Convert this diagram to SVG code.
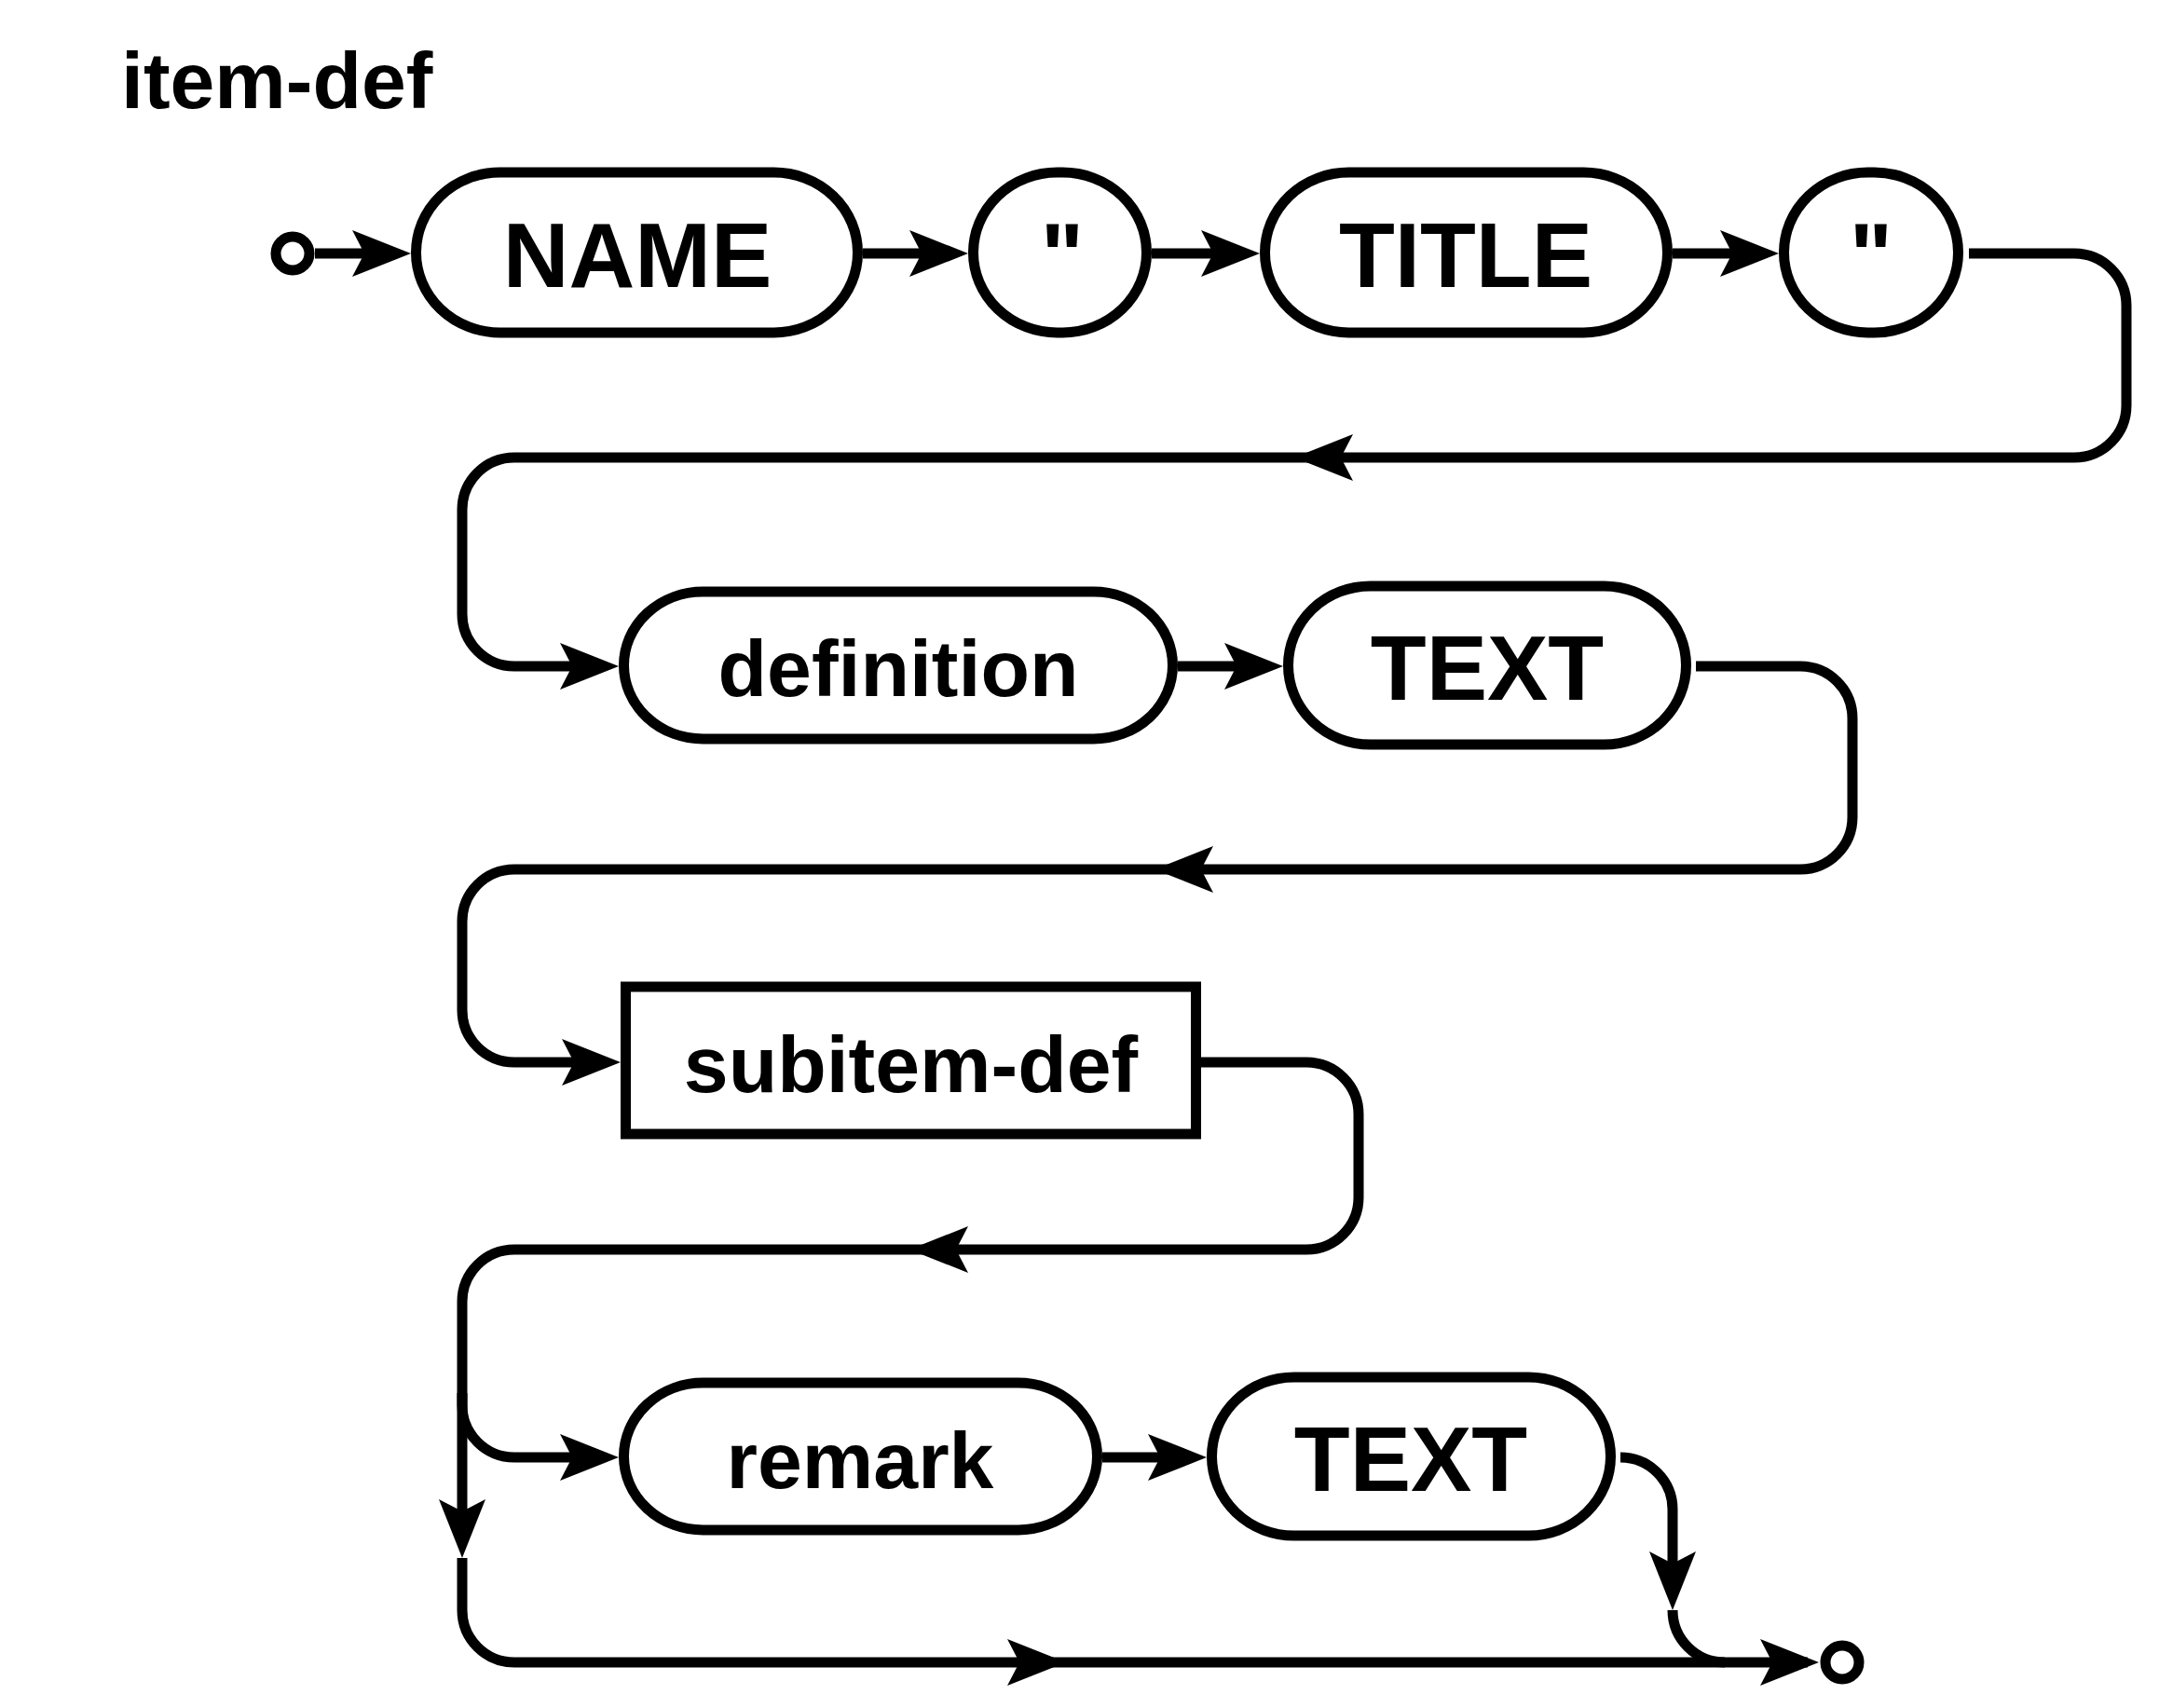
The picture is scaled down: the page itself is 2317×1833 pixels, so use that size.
<svg xmlns="http://www.w3.org/2000/svg" xmlns:xlink="http://www.w3.org/1999/xlink" width="2317" height="1833" viewBox="0 0 2317 1833">
<style>
.n { fill: #fff; stroke: #000; stroke-width: 11; }
.c { fill: none; stroke: #000; stroke-width: 11; }
.a { fill: #000; stroke: none; }
.t { font-family: "Liberation Sans", Arial, Helvetica, sans-serif; font-weight: bold; text-anchor: middle; fill: #000; }
.big { font-size: 98px; }
.sm { font-size: 86px; }
</style>
<defs>
<path id="ah" d="M0,0 L-63,-25 L-50,0 L-63,25 Z"/>
</defs>
<rect x="0" y="0" width="2317" height="1833" fill="#fff"/>
<text x="130" y="116" class="t sm" style="text-anchor:start">item-def</text>

<g id="connectors">
<path class="c" d="M338,272 L420,272"/>
<path class="c" d="M926,272 L1020,272"/>
<path class="c" d="M1236,272 L1330,272"/>
<path class="c" d="M1795,272 L1890,272"/>
<path class="c" d="M2113,272 L2226,272 A56,56 0 0 1 2282,328 L2282,435 A56,56 0 0 1 2226,491 L552,491 A56,56 0 0 0 496,547 L496,659 A56,56 0 0 0 552,715 L645,715"/>
<path class="c" d="M1264,715 L1360,715"/>
<path class="c" d="M1820,715 L1932,715 A56,56 0 0 1 1988,771 L1988,877 A56,56 0 0 1 1932,933 L552,933 A56,56 0 0 0 496,989 L496,1084 A56,56 0 0 0 552,1140 L645,1140"/>
<path class="c" d="M1289,1140 L1402,1140 A56,56 0 0 1 1458,1196 L1458,1285 A56,56 0 0 1 1402,1341 L552,1341 A56,56 0 0 0 496,1397 L496,1650"/>
<path class="c" d="M496,1495 L496,1508 A56,56 0 0 0 552,1564 L645,1564"/>
<path class="c" d="M1183,1564 L1280,1564"/>
<path class="c" d="M1739,1564 A56,56 0 0 1 1795,1620 L1795,1710"/>
<path class="c" d="M1795,1728 A56,56 0 0 0 1851,1784"/>
<path class="c" d="M496,1672 L496,1728 A56,56 0 0 0 552,1784 L1940,1784"/>
<use xlink:href="#ah" class="a" transform="translate(441,272)"/>
<use xlink:href="#ah" class="a" transform="translate(1039,272)"/>
<use xlink:href="#ah" class="a" transform="translate(1352,272)"/>
<use xlink:href="#ah" class="a" transform="translate(1909,272)"/>
<use xlink:href="#ah" class="a" transform="translate(1389,491) rotate(180)"/>
<use xlink:href="#ah" class="a" transform="translate(664,715)"/>
<use xlink:href="#ah" class="a" transform="translate(1377,715)"/>
<use xlink:href="#ah" class="a" transform="translate(1239,933) rotate(180)"/>
<use xlink:href="#ah" class="a" transform="translate(666,1140)"/>
<use xlink:href="#ah" class="a" transform="translate(976,1341) rotate(180)"/>
<use xlink:href="#ah" class="a" transform="translate(496,1672) rotate(90)"/>
<use xlink:href="#ah" class="a" transform="translate(664,1564)"/>
<use xlink:href="#ah" class="a" transform="translate(1295,1564)"/>
<use xlink:href="#ah" class="a" transform="translate(1795,1728) rotate(90)"/>
<use xlink:href="#ah" class="a" transform="translate(1144,1784)"/>
<use xlink:href="#ah" class="a" transform="translate(1952,1784)"/>
</g>

<g id="start"><circle class="n" cx="314" cy="272" r="18"/></g>
<g id="end"><circle class="n" cx="1977" cy="1784" r="18"/></g>

<g id="name">
<rect class="n" x="446.5" y="185" width="474" height="172" rx="90" ry="86"/>
<text class="t big" x="684" y="308">NAME</text>
</g>
<g id="quote1">
<rect class="n" x="1044.5" y="185" width="186" height="172" rx="90" ry="86"/>
<text class="t big" x="1140" y="308">"</text>
</g>
<g id="title">
<rect class="n" x="1357.5" y="185" width="432" height="172" rx="90" ry="86"/>
<text class="t big" x="1573" y="308">TITLE</text>
</g>
<g id="quote2">
<rect class="n" x="1914.5" y="185" width="187" height="172" rx="90" ry="86"/>
<text class="t big" x="2008" y="308">"</text>
</g>
<g id="definition">
<rect class="n" x="669.5" y="635" width="589" height="158" rx="85" ry="79"/>
<text class="t sm" x="964" y="747">definition</text>
</g>
<g id="text1">
<rect class="n" x="1382.5" y="629" width="427" height="170" rx="88" ry="85"/>
<text class="t big" x="1596" y="751">TEXT</text>
</g>
<g id="subitem-def">
<rect class="n" x="671.5" y="1059" width="612" height="158"/>
<text class="t sm" x="977.5" y="1172">subitem-def</text>
</g>
<g id="remark">
<rect class="n" x="669.5" y="1484" width="508" height="158" rx="85" ry="79"/>
<text class="t sm" x="923" y="1597">remark</text>
</g>
<g id="text2">
<rect class="n" x="1300.5" y="1478" width="428" height="170" rx="88" ry="85"/>
<text class="t big" x="1514" y="1600">TEXT</text>
</g>
</svg>
